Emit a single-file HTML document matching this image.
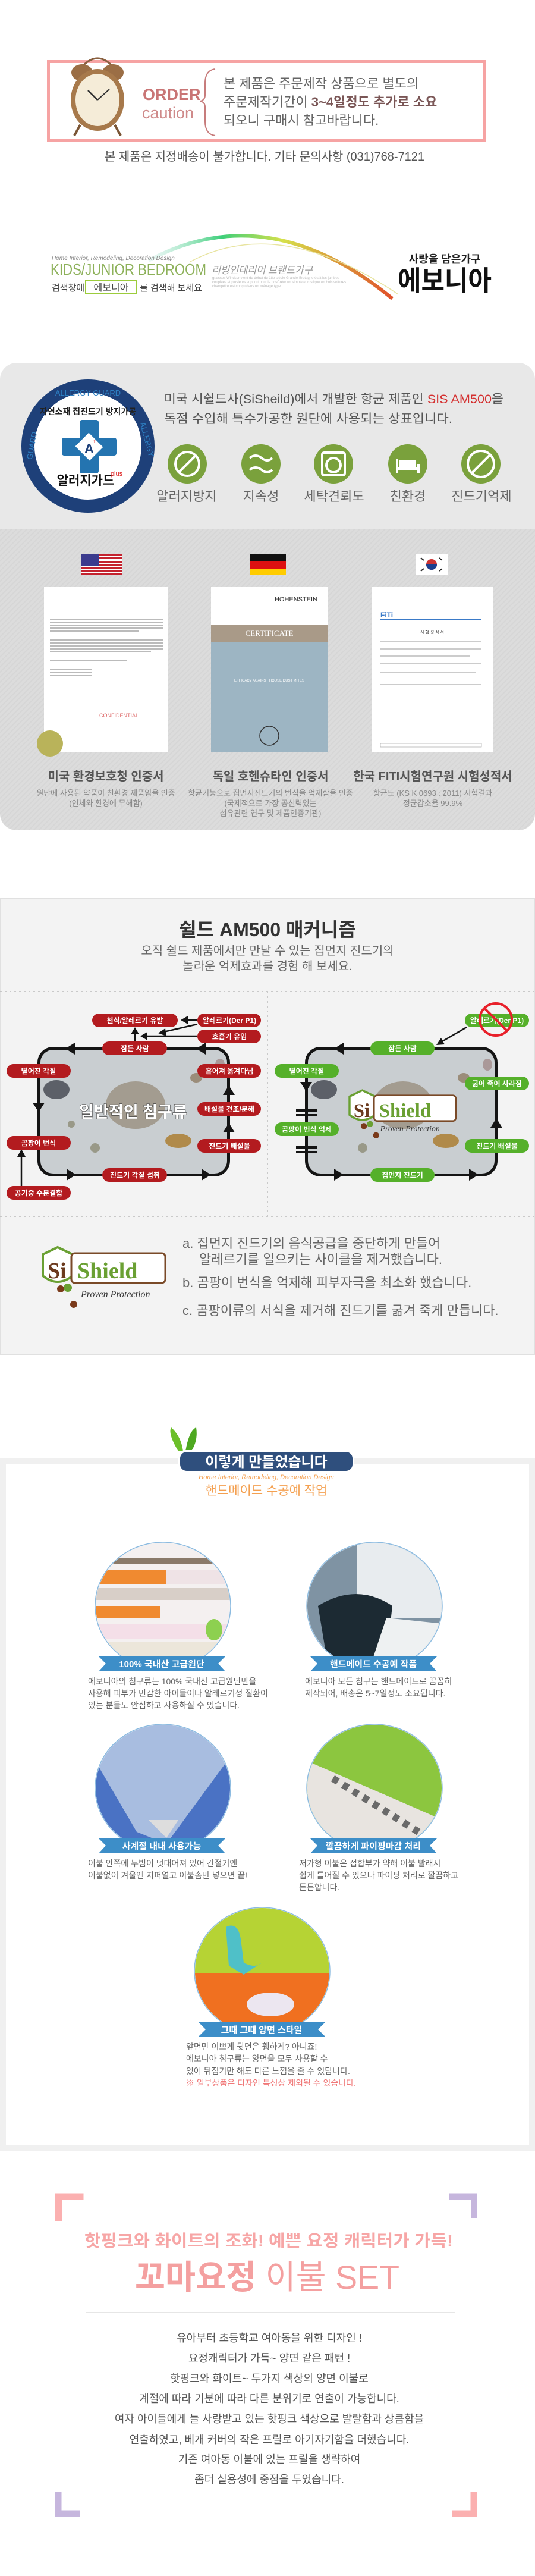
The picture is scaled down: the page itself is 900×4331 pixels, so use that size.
<!DOCTYPE html>
<html><head><meta charset="utf-8"><style>
html,body{margin:0;padding:0;background:#fff}
svg{display:block}
text{font-family:"Liberation Sans","Noto Sans CJK KR",sans-serif}
.serif{font-family:"Liberation Serif","Noto Serif CJK SC",serif}
</style></head><body>
<svg width="900" height="4331" viewBox="0 0 900 4331" xmlns="http://www.w3.org/2000/svg">
<defs>
<linearGradient id="arc" x1="0" y1="0" x2="1" y2="0">
<stop offset="0" stop-color="#bfe9e0" stop-opacity="0.3"/><stop offset="0.3" stop-color="#3dcf7a"/><stop offset="0.55" stop-color="#d6e04a"/><stop offset="1" stop-color="#e0502a"/></linearGradient>
<pattern id="stripe" width="6" height="6" patternUnits="userSpaceOnUse" patternTransform="rotate(45)"><rect width="6" height="6" fill="#dcdcdc"/><rect width="2" height="6" fill="#d6d6d6"/></pattern>
<clipPath id="gbox"><rect x="0" y="610" width="900" height="786" rx="28"/></clipPath>
<clipPath id="o1"><ellipse cx="274" cy="2700" rx="113" ry="106"/></clipPath>
<clipPath id="o2"><ellipse cx="630" cy="2700" rx="113" ry="106"/></clipPath>
<clipPath id="o3"><ellipse cx="274" cy="3006" rx="113" ry="106"/></clipPath>
<clipPath id="o4"><ellipse cx="630" cy="3006" rx="113" ry="106"/></clipPath>
<clipPath id="o5"><ellipse cx="441" cy="3314" rx="113" ry="106"/></clipPath>
<clipPath id="r1"><rect x="63" y="1760" width="324" height="218" rx="26"/></clipPath>
<clipPath id="r2"><rect x="513" y="1760" width="324" height="218" rx="26"/></clipPath>
</defs>

<!-- ORDER CAUTION -->
<rect x="81.5" y="103.5" width="734" height="133" fill="#fff" stroke="#f6a3a3" stroke-width="5"/>
<g>
<path d="M140 110 Q164 86 188 110" fill="none" stroke="#8a6040" stroke-width="3"/>
<ellipse cx="138" cy="122" rx="18" ry="14" fill="#9b6e45"/>
<ellipse cx="190" cy="122" rx="18" ry="14" fill="#9b6e45"/>
<line x1="135" y1="210" x2="125" y2="228" stroke="#7a5535" stroke-width="4"/>
<line x1="193" y1="210" x2="203" y2="228" stroke="#7a5535" stroke-width="4"/>
<ellipse cx="164" cy="168" rx="45" ry="52" fill="#a7794b"/>
<ellipse cx="164" cy="168" rx="37" ry="44" fill="#f5ecd8"/>
<line x1="164" y1="168" x2="148" y2="152" stroke="#333" stroke-width="2.5"/>
<line x1="164" y1="168" x2="184" y2="150" stroke="#333" stroke-width="2"/>
</g>
<text x="240" y="168" font-size="27" font-weight="bold" fill="#c97575">ORDER</text>
<text x="239" y="199" font-size="27" fill="#cf8a8a">caution</text>
<path d="M362 116 Q345 118 345 140 L345 160 Q345 168 337 170 Q345 172 345 180 L345 204 Q345 226 362 228" fill="none" stroke="#c77c7c" stroke-width="2"/>
<text x="376" y="148" font-size="22" fill="#666">본 제품은 주문제작 상품으로 별도의</text>
<text x="376" y="179" font-size="22" fill="#666">주문제작기간이 <tspan font-weight="bold" fill="#7a5656">3~4일정도 추가로 소요</tspan></text>
<text x="376" y="210" font-size="22" fill="#666">되오니 구매시 참고바랍니다.</text>
<text x="445" y="270" font-size="20" fill="#555" text-anchor="middle">본 제품은 지정배송이 불가합니다. 기타 문의사항 (031)768-7121</text>

<!-- BRAND -->
<path d="M250 438 Q450 330 660 502" fill="none" stroke="url(#arc)" stroke-width="6"/>
<path d="M320 440 Q470 360 670 495" fill="none" stroke="#e8e4a0" stroke-width="1.5"/>
<text x="87" y="437" font-size="10" font-style="italic" fill="#888">Home Interior, Remodeling, Decoration Design</text>
<text x="85" y="462" font-size="26" fill="#8db15a" textLength="262" lengthAdjust="spacingAndGlyphs">KIDS/JUNIOR BEDROOM</text>
<text x="356" y="460" font-size="17" font-style="italic" fill="#999" textLength="170" lengthAdjust="spacingAndGlyphs">리빙인테리어 브랜드가구</text>
<text x="357" y="469" font-size="6" fill="#bbb">graisses Windsor vient du début du 18e siècle Grande-Bretagne était les jambes</text>
<text x="357" y="476" font-size="6" fill="#bbb">couplées et plusieurs support pour le dosCréer un simple et rustique en bois voitures</text>
<text x="357" y="483" font-size="6" fill="#bbb">champêtre est conçu dans un ménage type.</text>
<text x="87" y="489" font-size="15" fill="#444">검색창에</text>
<rect x="144" y="472" width="86" height="21" fill="#fff" stroke="#9ccc3c" stroke-width="2"/>
<text x="187" y="489" font-size="16" fill="#444" text-anchor="middle">에보니아</text>
<text x="235" y="489" font-size="15" fill="#444">를 검색해 보세요</text>
<text x="748" y="442" font-size="18" font-weight="bold" fill="#222" text-anchor="middle">사랑을 담은가구</text>
<text x="748" y="488" font-size="46" font-weight="bold" fill="#111" text-anchor="middle" textLength="158" lengthAdjust="spacingAndGlyphs">에보니아</text>

<!-- ALLERGY GUARD SECTION -->
<g clip-path="url(#gbox)">
<rect x="0" y="610" width="900" height="280" fill="#e8e8e8"/>
<rect x="0" y="890" width="900" height="506" fill="url(#stripe)"/>
</g>
<circle cx="148" cy="750" r="101" fill="#fff" stroke="#1e4079" stroke-width="22"/>
<text x="148" y="665" font-size="13" fill="#2d7fc2" text-anchor="middle" transform="rotate(0 148 750)">ALLERGY GUARD</text>
<text x="0" y="0" font-size="13" fill="#2d7fc2" text-anchor="middle" transform="translate(58 750) rotate(-80)">GUARD</text>
<text x="0" y="0" font-size="13" fill="#2d7fc2" text-anchor="middle" transform="translate(243 740) rotate(75)">ALLERGY</text>
<text x="148" y="697" font-size="14" font-weight="bold" fill="#222" text-anchor="middle">자연소재 집진드기 방지가공</text>
<rect x="134" y="706" width="32" height="90" rx="4" fill="#2474b0"/>
<rect x="104" y="736" width="92" height="30" rx="4" fill="#2474b0"/>
<rect x="133" y="735" width="34" height="32" fill="#fff" transform="rotate(45 150 751)"/>
<text x="150" y="762" font-size="22" font-weight="bold" fill="#1e4079" text-anchor="middle">A</text>
<text x="156" y="745" font-size="10" fill="#d22" >+</text>
<text x="144" y="815" font-size="21" font-weight="bold" fill="#111" text-anchor="middle">알러지가드</text>
<text x="196" y="800" font-size="11" fill="#d22" text-anchor="middle">plus</text>

<text x="276" y="678" font-size="21" fill="#555" textLength="571" lengthAdjust="spacingAndGlyphs">미국 시쉴드사(SiSheild)에서 개발한 항균 제품인 <tspan fill="#d43030">SIS AM500</tspan>을</text>
<text x="276" y="711" font-size="21" fill="#555" textLength="485" lengthAdjust="spacingAndGlyphs">독점 수입해 특수가공한 원단에 사용되는 상표입니다.</text>
<g fill="#7aa13c">
<circle cx="315" cy="780" r="33"/><circle cx="439" cy="780" r="33"/><circle cx="561" cy="780" r="33"/><circle cx="686" cy="780" r="33"/><circle cx="809" cy="780" r="33"/>
</g>
<g fill="none" stroke="#fff" stroke-width="4">
<circle cx="315" cy="780" r="20"/><line x1="301" y1="794" x2="329" y2="766"/>
<path d="M420 770 Q430 762 440 770 T458 770 M420 790 Q430 782 440 790 T458 790"/>
<rect x="542" y="761" width="38" height="38" rx="3"/><circle cx="561" cy="782" r="12"/>
<path d="M666 788 L706 788 M668 772 L668 796 M704 780 L704 796" /><rect x="673" y="776" width="24" height="8" fill="#fff"/>
<circle cx="809" cy="780" r="22"/><line x1="793" y1="796" x2="825" y2="764"/>
</g>
<g font-size="22" fill="#666" text-anchor="middle">
<text x="314" y="842">알러지방지</text><text x="439" y="842">지속성</text><text x="562" y="842">세탁견뢰도</text><text x="686" y="842">친환경</text><text x="810" y="842">진드기억제</text>
</g>
<!-- flags -->
<rect x="137" y="932" width="68" height="35" fill="#fff"/>
<g fill="#c4222e"><rect x="137" y="932" width="68" height="3"/><rect x="137" y="937" width="68" height="3"/><rect x="137" y="943" width="68" height="3"/><rect x="137" y="948" width="68" height="3"/><rect x="137" y="954" width="68" height="3"/><rect x="137" y="959" width="68" height="3"/><rect x="137" y="964" width="68" height="3"/></g>
<rect x="137" y="932" width="30" height="19" fill="#3b3b8e"/>
<rect x="421" y="932" width="60" height="12" fill="#111"/><rect x="421" y="944" width="60" height="12" fill="#dd1111"/><rect x="421" y="956" width="60" height="11" fill="#fc0"/>
<rect x="700" y="932" width="53" height="35" fill="#fff"/><circle cx="726" cy="949" r="9" fill="#c33"/><path d="M717 949 A9 9 0 0 0 735 949" fill="#1b3f8f"/>
<g stroke="#222" stroke-width="2"><line x1="708" y1="938" x2="713" y2="942"/><line x1="739" y1="938" x2="744" y2="942"/><line x1="708" y1="960" x2="713" y2="956"/><line x1="739" y1="960" x2="744" y2="956"/></g>
<!-- docs -->
<rect x="74" y="987" width="209" height="277" fill="#fff"/>
<g fill="#bbb">
<rect x="84" y="1040" width="190" height="2"/><rect x="84" y="1045" width="190" height="2"/><rect x="84" y="1050" width="190" height="2"/><rect x="84" y="1055" width="190" height="2"/><rect x="84" y="1060" width="150" height="2"/>
<rect x="84" y="1075" width="190" height="2"/><rect x="84" y="1080" width="190" height="2"/><rect x="84" y="1085" width="190" height="2"/><rect x="84" y="1090" width="190" height="2"/><rect x="84" y="1095" width="170" height="2"/>
<rect x="84" y="1110" width="130" height="2"/><rect x="84" y="1125" width="70" height="2"/><rect x="84" y="1130" width="70" height="2"/><rect x="84" y="1135" width="70" height="2"/>
</g>
<text x="200" y="1206" font-size="9" fill="#d66" text-anchor="middle">CONFIDENTIAL</text>
<circle cx="84" cy="1250" r="22" fill="#b9b35a"/>
<rect x="355" y="987" width="196" height="277" fill="#fff"/>
<rect x="355" y="1050" width="196" height="30" fill="#a99a88"/>
<rect x="355" y="1080" width="196" height="184" fill="#9db5c3"/>
<text x="498" y="1011" font-size="11" fill="#333" text-anchor="middle">HOHENSTEIN</text>
<text x="453" y="1069" font-size="13" fill="#fff" text-anchor="middle" class="serif">CERTIFICATE</text>
<text x="453" y="1146" font-size="6" fill="#fff" text-anchor="middle">EFFICACY AGAINST HOUSE DUST MITES</text>
<circle cx="453" cy="1237" r="16" fill="none" stroke="#333" stroke-width="1.5"/>
<rect x="625" y="987" width="204" height="277" fill="#fff"/>
<text x="640" y="1038" font-size="12" font-weight="bold" fill="#3a7ac8">FiTi</text>
<rect x="640" y="1041" width="170" height="2" fill="#3a7ac8"/>
<text x="727" y="1065" font-size="7" fill="#444" text-anchor="middle">시 험 성 적 서</text>
<g fill="#ccc"><rect x="640" y="1078" width="170" height="2"/><rect x="640" y="1090" width="170" height="2"/><rect x="640" y="1102" width="150" height="2"/><rect x="640" y="1114" width="170" height="2"/><rect x="640" y="1130" width="160" height="2"/><rect x="640" y="1150" width="170" height="1"/><rect x="640" y="1180" width="170" height="1"/></g>
<rect x="640" y="1250" width="170" height="6" fill="none" stroke="#999" stroke-width="0.6"/>
<g font-size="20" font-weight="bold" fill="#555" text-anchor="middle">
<text x="178" y="1312">미국 환경보호청 인증서</text><text x="455" y="1312">독일 호헨슈타인 인증서</text><text x="728" y="1312">한국 FITI시험연구원 시험성적서</text>
</g>
<g font-size="13" fill="#888" text-anchor="middle">
<text x="178" y="1338">원단에 사용된 약품이 친환경 제품임을 인증</text><text x="178" y="1355">(인체와 환경에 무해함)</text>
<text x="455" y="1338">항균기능으로 집먼지진드기의 번식을 억제함을 인증</text><text x="455" y="1355">(국제적으로 가장 공신력있는</text><text x="455" y="1372">섬유관련 연구 및 제품인증기관)</text>
<text x="728" y="1338">항균도 (KS K 0693 : 2011) 시험결과</text><text x="728" y="1355">정균감소율 99.9%</text>
</g>

<!-- MECHANISM -->
<rect x="0.5" y="1510.5" width="899" height="767" fill="#f3f3f3" stroke="#e0e0e0"/>
<text x="450" y="1574" font-size="32" font-weight="bold" fill="#333" text-anchor="middle">쉴드 AM500 매커니즘</text>
<text x="450" y="1605" font-size="20" fill="#666" text-anchor="middle">오직 쉴드 제품에서만 만날 수 있는 집먼지 진드기의</text>
<text x="450" y="1631" font-size="20" fill="#666" text-anchor="middle">놀라운 억제효과를 경험 해 보세요.</text>
<g stroke="#bbb" stroke-width="1.5" stroke-dasharray="3 5"><line x1="0" y1="1667" x2="900" y2="1667"/><line x1="0" y1="2045" x2="900" y2="2045"/><line x1="450" y1="1667" x2="450" y2="2045"/></g>

<g clip-path="url(#r1)"><rect x="63" y="1760" width="324" height="218" fill="#c9ced1"/>
<ellipse cx="95" cy="1832" rx="22" ry="16" fill="#5c6068"/><ellipse cx="228" cy="1858" rx="50" ry="40" fill="#a39c90"/>
<ellipse cx="300" cy="1918" rx="22" ry="12" fill="#b08a4a"/><ellipse cx="330" cy="1812" rx="10" ry="8" fill="#9b8d7a"/><ellipse cx="160" cy="1930" rx="8" ry="8" fill="#998"/><ellipse cx="120" cy="1890" rx="6" ry="6" fill="#998"/><ellipse cx="370" cy="1790" rx="8" ry="10" fill="#a99"/>
</g>
<rect x="65.5" y="1762.5" width="319" height="213" rx="24" fill="none" stroke="#141414" stroke-width="5"/>
<g clip-path="url(#r2)"><rect x="513" y="1760" width="324" height="218" fill="#c9ced1"/>
<ellipse cx="545" cy="1832" rx="22" ry="16" fill="#5c6068"/><ellipse cx="678" cy="1858" rx="50" ry="40" fill="#a39c90"/>
<ellipse cx="750" cy="1918" rx="22" ry="12" fill="#b08a4a"/><ellipse cx="780" cy="1812" rx="10" ry="8" fill="#9b8d7a"/><ellipse cx="610" cy="1930" rx="8" ry="8" fill="#998"/><ellipse cx="820" cy="1790" rx="8" ry="10" fill="#a99"/>
</g>
<rect x="515.5" y="1762.5" width="319" height="213" rx="24" fill="none" stroke="#141414" stroke-width="5"/>
<!-- arrowheads -->
<g fill="#141414">
<polygon points="110,1763 126,1753 126,1773"/><polygon points="330,1763 346,1753 346,1773"/>
<polygon points="128,1975 112,1965 112,1985"/><polygon points="355,1975 339,1965 339,1985"/>
<polygon points="65,1870 55,1854 75,1854"/><polygon points="385,1825 375,1841 395,1841"/><polygon points="385,1888 375,1904 395,1904"/>
<polygon points="562,1763 578,1753 578,1773"/>
<polygon points="578,1975 562,1965 562,1985"/><polygon points="805,1975 789,1965 789,1985"/>
<polygon points="515,1835 505,1819 525,1819"/><polygon points="835,1880 825,1896 845,1896"/>
<rect x="498" y="1865" width="35" height="4"/><rect x="498" y="1873" width="35" height="4"/>
<rect x="498" y="1927" width="35" height="4"/><rect x="498" y="1935" width="35" height="4"/>
</g>
<g stroke="#141414" stroke-width="2.5" fill="none">
<line x1="332" y1="1715" x2="312" y2="1715"/><line x1="332" y1="1722" x2="275" y2="1735"/><line x1="332" y1="1742" x2="245" y2="1742"/>
<line x1="227" y1="1752" x2="227" y2="1735"/><line x1="36" y1="1994" x2="36" y2="1942"/>
<line x1="785" y1="1727" x2="742" y2="1752"/>
</g>
<g fill="#141414">
<polygon points="304,1715 316,1708 316,1722"/><polygon points="266,1737 278,1729 280,1742"/><polygon points="236,1742 248,1735 248,1749"/>
<polygon points="227,1727 220,1739 234,1739"/><polygon points="36,1932 29,1945 43,1945"/><polygon points="734,1757 742,1745 748,1756"/>
</g>
<g fill="#b31b1f">
<rect x="155" y="1704" width="144" height="23" rx="11.5"/><rect x="332" y="1704" width="107" height="23" rx="11.5"/><rect x="332" y="1731" width="107" height="23" rx="11.5"/>
<rect x="172" y="1751" width="109" height="23" rx="11.5"/><rect x="11" y="1789" width="108" height="23" rx="11.5"/><rect x="332" y="1789" width="107" height="23" rx="11.5"/>
<rect x="332" y="1853" width="107" height="23" rx="11.5"/><rect x="11" y="1910" width="108" height="23" rx="11.5"/><rect x="332" y="1915" width="107" height="23" rx="11.5"/>
<rect x="172" y="1964" width="109" height="23" rx="11.5"/><rect x="11" y="1994" width="108" height="23" rx="11.5"/>
</g>
<g font-size="12" font-weight="bold" fill="#fff" text-anchor="middle">
<text x="227" y="1720">천식/알레르기 유발</text><text x="386" y="1720">알레르기(Der P1)</text><text x="386" y="1747">호흡기 유입</text>
<text x="227" y="1767">잠든 사람</text><text x="65" y="1805">떨어진 각질</text><text x="386" y="1805">흩어져 옮겨다님</text>
<text x="386" y="1869">배설물 건조/분해</text><text x="65" y="1926">곰팡이 번식</text><text x="386" y="1931">진드기 배설물</text>
<text x="227" y="1980">진드기 각질 섭취</text><text x="65" y="2010">공기중 수분결합</text>
</g>
<text x="224" y="1879" font-size="27" font-weight="bold" fill="#fff" stroke="#333" stroke-width="1.2" text-anchor="middle" paint-order="stroke">일반적인 침구류</text>
<g fill="#55b02a">
<rect x="782" y="1704" width="108" height="23" rx="11.5"/><rect x="623" y="1751" width="108" height="23" rx="11.5"/><rect x="462" y="1789" width="108" height="23" rx="11.5"/>
<rect x="782" y="1810" width="108" height="23" rx="11.5"/><rect x="462" y="1887" width="108" height="23" rx="11.5"/><rect x="782" y="1915" width="108" height="23" rx="11.5"/>
<rect x="623" y="1964" width="108" height="23" rx="11.5"/>
</g>
<g font-size="12" font-weight="bold" fill="#fff" text-anchor="middle">
<text x="836" y="1720">알레르기(Der P1)</text><text x="677" y="1767">잠든 사람</text><text x="516" y="1805">떨어진 각질</text>
<text x="836" y="1826">굶어 죽어 사라짐</text><text x="516" y="1903">곰팡이 번식 억제</text><text x="836" y="1931">진드기 배설물</text><text x="677" y="1980">집먼지 진드기</text>
</g>
<circle cx="834" cy="1714" r="27" fill="none" stroke="#e8202a" stroke-width="4"/><line x1="815" y1="1695" x2="853" y2="1733" stroke="#e8202a" stroke-width="4"/>
<!-- shield logo in diagram -->
<g transform="translate(588 1840) scale(0.86)">
<path d="M0 4 L25 -8 L50 4 L50 40 Q25 60 0 40 Z" fill="#fff" stroke="#6aa033" stroke-width="4"/>
<rect x="48" y="2" width="160" height="50" rx="6" fill="#fff" stroke="#7a4a28" stroke-width="3"/>
<text x="8" y="44" font-size="38" font-weight="bold" fill="#6b3a1e" class="serif">Si</text>
<text x="58" y="44" font-size="38" font-weight="bold" fill="#6aa033" class="serif">Shield</text>
<text x="60" y="72" font-size="16" font-style="italic" fill="#333" class="serif">Proven Protection</text>
<circle cx="28" cy="62" r="6" fill="#7a3a1a"/><circle cx="52" cy="80" r="6" fill="#7a3a1a"/><circle cx="40" cy="58" r="6" fill="#6aa033"/>
</g>
<!-- bottom logo -->
<g transform="translate(72 2105)">
<path d="M0 4 L25 -8 L50 4 L50 40 Q25 60 0 40 Z" fill="#fff" stroke="#6aa033" stroke-width="4"/>
<rect x="48" y="2" width="158" height="50" rx="6" fill="#fff" stroke="#7a4a28" stroke-width="3"/>
<text x="8" y="44" font-size="38" font-weight="bold" fill="#6b3a1e" class="serif">Si</text>
<text x="58" y="44" font-size="38" font-weight="bold" fill="#6aa033" class="serif">Shield</text>
<text x="64" y="76" font-size="16" font-style="italic" fill="#333" class="serif">Proven Protection</text>
<circle cx="30" cy="62" r="6" fill="#7a3a1a"/><circle cx="52" cy="88" r="6" fill="#7a3a1a"/><circle cx="42" cy="60" r="7" fill="#6aa033"/>
</g>
<g font-size="22" fill="#666">
<text x="307" y="2098">a. 집먼지 진드기의 음식공급을 중단하게 만들어</text>
<text x="335" y="2125">알레르기를 일으키는 사이클을 제거했습니다.</text>
<text x="307" y="2164">b. 곰팡이 번식을 억제해 피부자극을 최소화 했습니다.</text>
<text x="307" y="2211">c. 곰팡이류의 서식을 제거해 진드기를 굶겨 죽게 만듭니다.</text>
</g>

<!-- HANDMADE -->
<rect x="0" y="2452" width="900" height="1164" fill="#f0f0f0"/>
<rect x="10" y="2461" width="880" height="1145" fill="#fff"/>
<path d="M300 2440 Q282 2410 288 2400 Q305 2415 308 2440 Z" fill="#6cbf2a"/>
<path d="M312 2440 Q318 2405 330 2400 Q334 2425 318 2445 Z" fill="#4ea821"/>
<rect x="300" y="2438" width="296" height="38" rx="12" fill="#fff"/>
<rect x="303" y="2441" width="290" height="32" rx="11" fill="#2f4f7d"/>
<text x="448" y="2466" font-size="24" font-weight="bold" fill="#fff" text-anchor="middle">이렇게 만들었습니다</text>
<text x="448" y="2487" font-size="11" font-style="italic" fill="#f4a050" text-anchor="middle">Home Interior, Remodeling, Decoration Design</text>
<text x="448" y="2513" font-size="21" fill="#f4a050" text-anchor="middle">핸드메이드 수공예 작업</text>

<g clip-path="url(#o1)">
<rect x="160" y="2590" width="230" height="220" fill="#f4f0f0"/>
<rect x="160" y="2620" width="230" height="10" fill="#8a7a6a"/><rect x="160" y="2640" width="120" height="24" fill="#f08a30"/><rect x="280" y="2640" width="110" height="24" fill="#efe3e6"/>
<rect x="160" y="2670" width="230" height="20" fill="#d8cfc8"/><rect x="160" y="2700" width="110" height="20" fill="#f08a30"/><rect x="160" y="2730" width="230" height="25" fill="#f4dfe8"/>
<rect x="160" y="2760" width="230" height="40" fill="#ece6da"/><ellipse cx="360" cy="2740" rx="14" ry="18" fill="#8dd050"/>
</g>
<ellipse cx="274" cy="2700" rx="114" ry="107" fill="none" stroke="#8cbbe0" stroke-width="1.5"/>
<g clip-path="url(#o2)">
<rect x="515" y="2590" width="230" height="220" fill="#7f93a3"/>
<rect x="600" y="2590" width="145" height="130" fill="#e8ecef"/>
<path d="M535 2700 Q600 2660 660 2700 L650 2790 L550 2790 Z" fill="#1c2a33"/>
<path d="M650 2720 L745 2730 L745 2810 L620 2810 Z" fill="#eef1f2"/>
</g>
<ellipse cx="630" cy="2700" rx="114" ry="107" fill="none" stroke="#8cbbe0" stroke-width="1.5"/>
<g clip-path="url(#o3)">
<rect x="160" y="2895" width="230" height="220" fill="#a8bde0"/>
<path d="M160 2960 L230 3080 L280 3100 L390 2950 L390 3115 L160 3115Z" fill="#4a72c4"/>
<path d="M250 3060 L280 3090 L300 3060 Z" fill="#ddd"/>
</g>
<ellipse cx="274" cy="3006" rx="114" ry="107" fill="none" stroke="#8cbbe0" stroke-width="1.5"/>
<g clip-path="url(#o4)">
<rect x="515" y="2895" width="230" height="220" fill="#8cc63f"/>
<path d="M515 2960 L745 3060 L745 3115 L515 3115 Z" fill="#e8e4e0"/>
<path d="M560 2990 L720 3090" stroke="#6a6a6a" stroke-width="12" stroke-dasharray="10 10"/>
</g>
<ellipse cx="630" cy="3006" rx="114" ry="107" fill="none" stroke="#8cbbe0" stroke-width="1.5"/>
<g clip-path="url(#o5)">
<rect x="326" y="3205" width="232" height="235" fill="#b6d334"/>
<rect x="326" y="3317" width="232" height="120" fill="#f07020"/>
<path d="M380 3240 Q400 3230 405 3260 L410 3300 Q430 3310 440 3300 L410 3320 L385 3305 Z" fill="#4fc0c8"/>
<ellipse cx="455" cy="3370" rx="40" ry="20" fill="#ece6f0"/>
</g>
<ellipse cx="441" cy="3314" rx="114" ry="107" fill="none" stroke="#8cbbe0" stroke-width="1.5"/>
<g fill="#3d8ec8">
<polygon points="166,2785 379,2785 367,2797 379,2810 166,2810 178,2797"/>
<polygon points="522,2785 735,2785 723,2797 735,2810 522,2810 534,2797"/>
<polygon points="166,3091 379,3091 367,3103 379,3116 166,3116 178,3103"/>
<polygon points="522,3091 735,3091 723,3103 735,3116 522,3116 534,3103"/>
<polygon points="334,3400 547,3400 535,3412 547,3424 334,3424 346,3412"/>
</g>
<g font-size="15" font-weight="bold" fill="#fff" text-anchor="middle">
<text x="272" y="2803">100% 국내산 고급원단</text><text x="628" y="2803">핸드메이드 수공예 작품</text>
<text x="272" y="3109">사계절 내내 사용가능</text><text x="628" y="3109">깔끔하게 파이핑마감 처리</text>
<text x="440" y="3418">그때 그때 양면 스타일</text>
</g>
<g font-size="14" fill="#666">
<text x="148" y="2832">에보니아의 침구류는 100% 국내산 고급원단만을</text>
<text x="148" y="2852">사용해 피부가 민감한 아이들이나 알레르기성 질환이</text>
<text x="148" y="2872">있는 분들도 안심하고 사용하실 수 있습니다.</text>
<text x="513" y="2832">에보니아 모든 침구는 핸드메이드로 꼼꼼히</text>
<text x="513" y="2852">제작되어, 배송은 5~7일정도 소요됩니다.</text>
<text x="148" y="3138">이불 안쪽에 누빔이 덧대어져 있어 간절기엔</text>
<text x="148" y="3158">이불없이 겨울엔 지퍼열고 이불솜만 넣으면 끝!</text>
<text x="503" y="3138">저가형 이불은 접합부가 약해 이불 빨래시</text>
<text x="503" y="3158">쉽게 틀어질 수 있으나 파이핑 처리로 깔끔하고</text>
<text x="503" y="3178">튼튼합니다.</text>
<text x="313" y="3446">앞면만 이쁘게 뒷면은 휑하게? 아니죠!</text>
<text x="313" y="3466">에보니아 침구류는 양면을 모두 사용할 수</text>
<text x="313" y="3487">있어 뒤집기만 해도 다른 느낌을 줄 수 있답니다.</text>
<text x="313" y="3507" fill="#f07878">※ 일부상품은 디자인 특성상 제외될 수 있습니다.</text>
</g>

<!-- FINAL -->
<path d="M93 3729 V3688 H135" fill="none" stroke="#fbb0b0" stroke-width="11" transform="translate(5.5 5)"/>
<path d="M761 3693 H803 V3729" fill="none" stroke="#c6b6dd" stroke-width="11" transform="translate(-5.5 0)"/>
<path d="M98 4189 V4226 H135" fill="none" stroke="#c6b6dd" stroke-width="11"/>
<path d="M761 4226 H797 V4189" fill="none" stroke="#fbb0b0" stroke-width="11"/>
<text x="452" y="3777" font-size="28" font-weight="bold" fill="#f7a6a6" text-anchor="middle" textLength="620" lengthAdjust="spacingAndGlyphs">핫핑크와 화이트의 조화! 예쁜 요정 캐릭터가 가득!</text>
<text x="227" y="3848" font-size="56" fill="#f4a0a0" textLength="445" lengthAdjust="spacingAndGlyphs"><tspan font-weight="bold">꼬마요정</tspan> 이불 SET</text>
<line x1="144" y1="3888" x2="766" y2="3888" stroke="#ccc" stroke-width="1"/>
<g font-size="18" fill="#555" text-anchor="middle">
<text x="453" y="3937">유아부터 초등학교 여아동을 위한 디자인 !</text>
<text x="453" y="3971">요정캐릭터가 가득~ 양면 같은 패턴 !</text>
<text x="453" y="4005">핫핑크와 화이트~ 두가지 색상의 양면 이불로</text>
<text x="453" y="4039">계절에 따라 기분에 따라 다른 분위기로 연출이 가능합니다.</text>
<text x="453" y="4073">여자 아이들에게 늘 사랑받고 있는 핫핑크 색상으로 발랄함과 상큼함을</text>
<text x="453" y="4108">연출하였고, 베개 커버의 작은 프릴로 아기자기함을 더했습니다.</text>
<text x="453" y="4141">기존 여아동 이불에 있는 프릴을 생략하여</text>
<text x="453" y="4175">좀더 실용성에 중점을 두었습니다.</text>
</g>
</svg>
</body></html>
